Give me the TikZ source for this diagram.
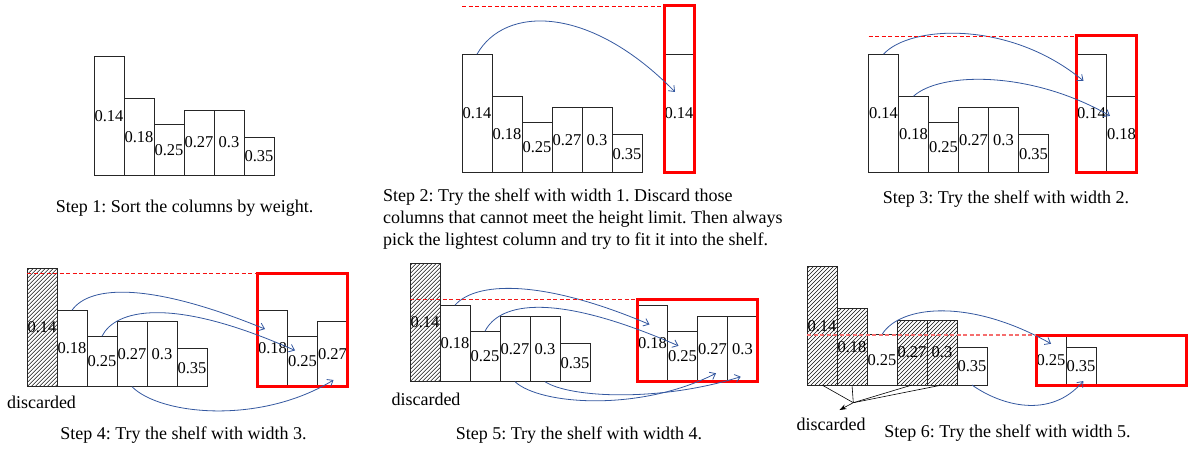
\documentclass[tikz,border=0pt]{standalone}
\usepackage{fontspec}
\setmainfont{Liberation Serif}
\usetikzlibrary{calc,arrows.meta}
\definecolor{arrblue}{RGB}{52,88,160}
\definecolor{limredA}{RGB}{255,0,0}
\definecolor{limredB}{RGB}{250,8,8}
\definecolor{limredC}{RGB}{245,16,16}
\definecolor{limredD}{RGB}{240,24,24}
\definecolor{limpink}{RGB}{245,110,110}
\definecolor{hatchk}{RGB}{20,20,20}
\newcommand\labfont{\fontsize{16.5}{18}\selectfont}
\newcommand\capfont{\fontsize{18}{22}\selectfont}
\frenchspacing
\tikzset{
 colbox/.style={draw=black!85, line width=0.8pt, inner sep=0pt, outer sep=0pt, minimum width=30pt, anchor=south west, font=\labfont, fill=white},
 hcolbox/.style={colbox, path picture={
   \foreach \d in {-132,-128,...,32}
     \draw[draw=hatchk, line width=0.55pt] ([xshift=\d pt]path picture bounding box.south west) -- ++(135pt,135pt);}},
 shelfbox/.style={draw=red, line width=3pt, inner sep=0pt, outer sep=0pt, anchor=south west},
 limitline/.style={line width=0.9pt, dash pattern=on 4pt off 2.5pt},
 mvarrow/.style={draw=arrblue, line width=0.8pt, -{Straight Barb[length=5pt,width=8pt]}},
 captext/.style={font=\capfont, inner sep=0pt},
 discline/.style={draw=black, line width=0.6pt},
}
\begin{document}
\begin{tikzpicture}[x=1pt,y=-1pt]
\useasboundingbox (0,0) rectangle (1188,449);

% ---------- Panel 1
\foreach \i/\h/\t in {1/118.5/0.14,2/76.5/0.18,3/50.5/0.25,4/65/0.27,5/65/0.3,6/38/0.35}
  \node[colbox, minimum height=\h pt] (p1c\i) at ({94+30*(\i-1)},175) {\t};
\node[captext] (cap1) at (184.5,208) {Step 1: Sort the columns by weight.};

% ---------- Panel 2
\foreach \i/\h/\t in {1/118.5/0.14,2/76.5/0.18,3/50.5/0.25,4/65/0.27,5/65/0.3,6/38/0.35}
  \node[colbox, minimum height=\h pt] (p2c\i) at ({462+30*(\i-1)},172.7) {\t};
\node[colbox, minimum height=118.5pt] (p2s1) at (664,172.7) {0.14};
\node[shelfbox, minimum width=30pt, minimum height=166.7pt] (p2sh) at (664,172.7) {};
\draw[mvarrow] (p2c1.north) .. controls (505,5) and (590,5) .. ($(p2s1.center)+(-4,-21.5)$);
\node[captext, anchor=west, align=left] (cap2) at (383,219) {Step 2: Try the shelf with width 1. Discard those\\columns that cannot meet the height limit. Then always\\pick the lightest column and try to fit it into the shelf.};

% ---------- Panel 3
\foreach \i/\h/\t in {1/118.5/0.14,2/76.5/0.18,3/50.5/0.25,4/65/0.27,5/65/0.3,6/38/0.35}
  \node[colbox, minimum height=\h pt] (p3c\i) at ({868.5+30*(\i-1)},172.7) {\t};
\node[colbox, minimum height=118.5pt] (p3s1) at (1076.5,172.7) {0.14};
\node[colbox, minimum height=76.5pt] (p3s2) at (1106.5,172.7) {0.18};
\node[shelfbox, minimum width=60pt, minimum height=136.7pt] (p3sh) at (1076.5,172.7) {};
\draw[mvarrow] (p3c1.north) .. controls (910,25) and (1010,20) .. ($(p3s1.center)+(-8,-32.5)$);
\draw[mvarrow] (p3c2.north) .. controls (940,72) and (1030,70) .. ($(p3s2.center)+(-11.5,-18.6)$);
\node[captext] (cap3) at (1006,199) {Step 3: Try the shelf with width 2.};

% ---------- Panel 4
\foreach \i/\h/\t/\s in {1/118.5/0.14/hcolbox,2/76.5/0.18/colbox,3/50.5/0.25/colbox,4/65/0.27/colbox,5/65/0.3/colbox,6/38/0.35/colbox}
  \node[\s, minimum height=\h pt] (p4c\i) at ({27+30*(\i-1)},386.7) {\t};
\node[colbox, minimum height=76.5pt] (p4s1) at (257.5,386.7) {0.18};
\node[colbox, minimum height=50.5pt] (p4s2) at (287.5,386.7) {0.25};
\node[colbox, minimum height=65pt] (p4s3) at (317.5,386.7) {0.27};
\node[shelfbox, minimum width=90pt, minimum height=113.7pt] (p4sh) at (257.5,386.7) {};
\draw[mvarrow] (p4c2.north) .. controls (90,285) and (150,282) .. ($(p4s1.center)+(-7.5,-19.4)$);
\draw[mvarrow] (p4c3.north) .. controls (115,310) and (170,295) .. ($(p4s2.center)+(-7.5,-11)$);
\draw[mvarrow] (p4c4.south) .. controls (160,415) and (260,425) .. ($(p4s3.south)+(1,-6.7)$);
\node[captext] (p4d) at (41.5,402) {discarded};
\node[captext] (cap4) at (183.5,435) {Step 4: Try the shelf with width 3.};

% ---------- Panel 5
\foreach \i/\h/\t/\s in {1/118.5/0.14/hcolbox,2/76.5/0.18/colbox,3/50.5/0.25/colbox,4/65/0.27/colbox,5/65/0.3/colbox,6/38/0.35/colbox}
  \node[\s, minimum height=\h pt] (p5c\i) at ({410+30*(\i-1)},381.7) {\t};
\node[colbox, minimum height=76.5pt] (p5s1) at (637.5,381.7) {0.18};
\node[colbox, minimum height=50.5pt] (p5s2) at (667.5,381.7) {0.25};
\node[colbox, minimum height=65pt] (p5s3) at (697.5,381.7) {0.27};
\node[colbox, minimum height=65pt] (p5s4) at (727.5,381.7) {0.3};
\node[shelfbox, minimum width=120pt, minimum height=82.7pt] (p5sh) at (637.5,381.7) {};
\draw[mvarrow] (p5c2.north) .. controls (475,282) and (540,278) .. ($(p5s1.center)+(-3,-19)$);
\draw[mvarrow] (p5c3.north) .. controls (500,302) and (555,292) .. ($(p5s2.center)+(-4,-10.6)$);
\draw[mvarrow] (p5c4.south) .. controls (540,405) and (640,412) .. ($(p5s3.south)+(3.5,-8.4)$);
\draw[mvarrow] (p5c5.south) .. controls (570,398) and (660,402) .. ($(p5s4.south)+(-1.8,-5)$);
\node[captext] (p5d) at (426,399) {discarded};
\node[captext] (cap5) at (579,435) {Step 5: Try the shelf with width 4.};

% ---------- Panel 6
\foreach \i/\h/\t/\s in {1/118.5/0.14/hcolbox,2/76.5/0.18/hcolbox,3/50.5/0.25/colbox,4/65/0.27/hcolbox,5/65/0.3/hcolbox,6/38/0.35/colbox}
  \node[\s, minimum height=\h pt] (p6c\i) at ({807+30*(\i-1)},385) {\t};
\node[colbox, minimum height=50.5pt] (p6s1) at (1036,385) {0.25};
\node[colbox, minimum height=38pt] (p6s2) at (1066,385) {0.35};
\node[shelfbox, minimum width=150pt, minimum height=50pt] (p6sh) at (1036,385) {};
\draw[mvarrow] (p6c3.north) .. controls (900,305) and (970,298) .. ($(p6s1.center)+(0,-16)$);
\draw[mvarrow] (p6c6.south) .. controls (1000,405) and (1050,420) .. ($(p6s2.south)+(2.3,-4)$);
\node[captext] (p6d) at (831,424) {discarded};
\coordinate (p6j) at (853.3,402.7);
\coordinate (p6t) at (839.5,410);
\foreach \k in {1,2,4,5}
  \draw[discline] (p6c\k.south) -- (p6j);
\draw[discline, -{Stealth[length=7pt,width=5pt]}] (p6j) -- (p6t);
\node[captext] (cap6) at (1007.5,433) {Step 6: Try the shelf with width 5.};

% ---------- height limits (dashed)
\draw[limitline, draw=limredA] (p2c1.north west |- p2sh.north west) -- (p2sh.north west);
\draw[limitline, draw=limredB] (p3c1.north west |- p3sh.north west) -- (p3sh.north west);
\draw[limitline, draw=limredC] (p4c1.north west |- p4sh.north west) -- (p4sh.north west);
\draw[limitline, draw=limredD] (p5c1.north west |- p5sh.north west) -- (p5sh.north west);
\draw[limitline, draw=limpink, line width=1.2pt] (p6c1.north west |- p6sh.north west) -- (p6sh.north west);
\end{tikzpicture}
\end{document}
